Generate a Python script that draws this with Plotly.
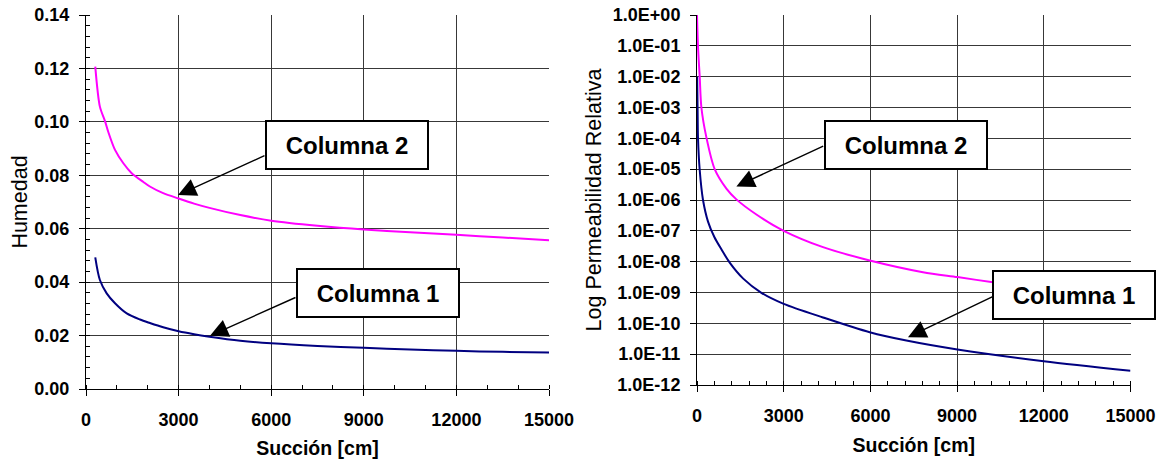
import plotly.graph_objects as go

# ---------------- data ----------------
# Left chart: Humedad vs Succión
suc_hum_c2 = [300, 450, 620, 720, 940, 1210, 1480, 1860, 2070, 2500, 3000, 3500, 4000,
              5000, 6000, 7500, 9000, 10500, 12000, 13500, 15000]
hum_c2 = [0.1207, 0.1057, 0.1001, 0.0963, 0.0895, 0.0845, 0.0808, 0.0775, 0.0758,
          0.0733, 0.0713, 0.0694, 0.0678, 0.0651, 0.0630, 0.0611, 0.0597, 0.0587,
          0.0577, 0.0567, 0.0557]

suc_hum_c1 = [300, 450, 670, 940, 1320, 1750, 2070, 2500, 3000, 3500, 4000, 5000,
              6000, 7500, 9000, 10500, 12000, 13500, 15000]
hum_c1 = [0.0493, 0.0408, 0.0358, 0.0321, 0.0283, 0.0260, 0.0247, 0.0231, 0.0216,
          0.0205, 0.0196, 0.0181, 0.0171, 0.0161, 0.0154, 0.0148, 0.0143, 0.0139, 0.0137]

# Right chart: relative permeability (log10 values) vs Succión
suc_perm_c2 = [0, 35, 93, 152, 325, 612, 1017, 1363, 2055, 3000, 4360, 5976, 7820,
               9010, 10242, 12000, 15000]
logk_c2 = [0.0, -1.04, -2.0, -3.0, -3.97, -5.0, -5.63, -5.98, -6.47, -7.0, -7.53,
           -7.96, -8.34, -8.5, -8.67, -8.9, -9.2]

suc_perm_c1 = [5, 20, 35, 93, 208, 381, 600, 844, 1131, 1600, 2228, 3000, 4360,
               5976, 7245, 9010, 12000, 15000]
logk_c1 = [-2.0, -3.0, -4.0, -5.02, -6.0, -6.7, -7.2, -7.6, -8.03, -8.55, -9.01,
           -9.37, -9.81, -10.29, -10.56, -10.85, -11.23, -11.54]

x_ticks = [0, 3000, 6000, 9000, 12000, 15000]
x_ticktext = ["0", "3000", "6000", "9000", "12000", "15000"]
hum_ticks = [0.00, 0.02, 0.04, 0.06, 0.08, 0.10, 0.12, 0.14]
perm_exps = list(range(0, -13, -1))
perm_ticktext = ["1.0E+00"] + ["1.0E-%02d" % (-e) for e in perm_exps[1:]]

series_names = ["Columna 2", "Columna 1"]
colors = ["#FF00FF", "#000080"]

# ---------------- figure ----------------
W, H = 1166, 459
fig = go.Figure()

def line(x, y, name, color, xa, ya):
    fig.add_trace(go.Scatter(x=x, y=y, mode="lines", name=name,
                             line=dict(color=color, width=2, shape="spline",
                                       smoothing=0.8),
                             xaxis=xa, yaxis=ya))

line(suc_hum_c2, hum_c2, series_names[0], colors[0], "x", "y")
line(suc_hum_c1, hum_c1, series_names[1], colors[1], "x", "y")
line(suc_perm_c2, [10 ** v for v in logk_c2], series_names[0], colors[0], "x2", "y2")
line(suc_perm_c1, [10 ** v for v in logk_c1], series_names[1], colors[1], "x2", "y2")

FONT = "Liberation Sans, Arial, sans-serif"
tickfont = dict(family=FONT, size=18, color="black", weight="bold")
grid = "#383838"

common_x = dict(range=[0, 15000], tickvals=x_ticks, ticktext=x_ticktext,
                showgrid=True, gridcolor=grid, gridwidth=1, zeroline=False,
                showline=True, linecolor="black", linewidth=1, mirror=False,
                ticks="outside", ticklen=6, tickcolor="black", tickfont=tickfont,
                ticklabelstandoff=8, automargin=False,
                title=dict(text="Succión [cm]",
                           font=dict(family=FONT, size=19.5, color="black",
                                     weight="bold"),
                           standoff=13))

fig.update_layout(
    width=W, height=H, autosize=False,
    paper_bgcolor="white", plot_bgcolor="white",
    margin=dict(l=0, r=0, t=15, b=70),
    showlegend=False,
    xaxis=dict(common_x, domain=[86 / W, 549 / W], anchor="y",
               minor=dict(dtick=1000, ticks="inside", ticklen=4, tickcolor="black",
                          showgrid=False)),
    yaxis=dict(domain=[0, 1], anchor="x", range=[0, 0.14], tickvals=hum_ticks,
               tickformat=".2f", showgrid=True, gridcolor=grid, gridwidth=1,
               zeroline=False, showline=True, linecolor="black", linewidth=1,
               ticks="outside", ticklen=6, tickcolor="black", tickfont=tickfont,
               ticklabelstandoff=6, automargin=False,
               minor=dict(dtick=0.004, ticks="inside", ticklen=4, tickcolor="black",
                          showgrid=False),
               title=dict(text="Humedad",
                          font=dict(family=FONT, size=21.5, color="black"),
                          standoff=0)),
    xaxis2=dict(common_x, domain=[697 / W, 1130.5 / W], anchor="y2",
                minor=dict(dtick=600, ticks="inside", ticklen=4, tickcolor="black",
                           showgrid=False)),
    yaxis2=dict(domain=[(389 - 385) / 374, 1], anchor="x2", type="log",
                range=[-12, 0], tickvals=[10 ** e for e in perm_exps],
                ticktext=perm_ticktext, showgrid=True, gridcolor=grid, gridwidth=1,
                zeroline=False, showline=True, linecolor="black", linewidth=1,
                ticks="outside", ticklen=6, tickcolor="black", tickfont=tickfont,
                ticklabelstandoff=6, automargin=False,
                title=dict(text="Log Permeabilidad Relativa",
                           font=dict(family=FONT, size=21.5, color="black"),
                           standoff=5)),
)

# ---------------- annotations ----------------
labfont = dict(family=FONT, size=24, color="black", weight="bold")

def box(xref, yref, x, y, text):
    fig.add_annotation(xref=xref, yref=yref, x=x, y=y, text=text, showarrow=False,
                       font=labfont, bgcolor="white", bordercolor="black",
                       borderwidth=2, borderpad=2, width=156, height=42,
                       xanchor="center", yanchor="middle")

def arrow(xref, yref, hx, hy, tx, ty):
    fig.add_annotation(xref=xref, yref=yref, x=hx, y=hy, axref=xref, ayref=yref,
                       ax=tx, ay=ty, text="", showarrow=True, arrowhead=2,
                       arrowsize=2.6, arrowwidth=1.4, arrowcolor="black", standoff=0)

# left chart
arrow("x", "y", 2980, 0.0726, 5831, 0.0876)
box("x", "y", 8455, 0.0913, series_names[0])
arrow("x", "y", 4017, 0.0199, 6835, 0.0345)
box("x", "y", 9475, 0.0360, series_names[1])

# right chart (log axis -> log10 coordinates)
arrow("x2", "y2", 1363, -5.56, 4419, -4.23)
box("x2", "y2", 7225, -4.21, series_names[0])
arrow("x2", "y2", 7301, -10.45, 10301, -9.10)
box("x2", "y2", 13038, -9.07, series_names[1])

fig.write_html("out.html",
               config={"displayModeBar": False},
               post_script="document.body.style.margin='0';"
                           "document.body.style.overflow='hidden';")
